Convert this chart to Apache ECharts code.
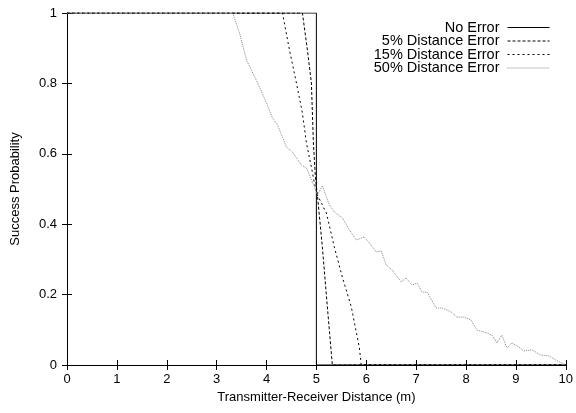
<!DOCTYPE html>
<html><head><meta charset="utf-8">
<script src="https://cdn.jsdelivr.net/npm/echarts@6/dist/echarts.min.js"></script>
<style>html,body{margin:0;padding:0;background:#fff}#c{width:576px;height:413px}</style>
</head><body><div id="c"></div>
<script>
const seriesNames = ['No Error', '5% Distance Error', '15% Distance Error', '50% Distance Error'];
const noError = [[0,1],[5,1],[5,0],[10,0]];
const err5 = [[0,1],[4.72,1.0],[4.82,0.895],[4.90,0.801],[4.92,0.716],[4.94,0.631],[4.98,0.534],[5.02,0.483],[5.12,0.335],[5.22,0.165],[5.32,0.0],[10,0]];
const err15 = [[0,1],[4.32,1.0],[4.46,0.895],[4.60,0.801],[4.72,0.716],[4.80,0.631],[4.90,0.562],[4.96,0.517],[5.02,0.483],[5.20,0.432],[5.36,0.335],[5.52,0.250],[5.70,0.165],[5.86,0.051],[5.90,0.0],[10,0]];
const err50 = [[0,1],[3.32,1.0],[3.46,0.943],[3.60,0.866],[3.86,0.790],[4.00,0.744],[4.12,0.702],[4.22,0.682],[4.40,0.619],[4.52,0.605],[4.70,0.568],[4.80,0.560],[4.92,0.520],[5.02,0.483],[5.12,0.509],[5.26,0.455],[5.36,0.435],[5.52,0.418],[5.66,0.384],[5.80,0.355],[5.96,0.364],[6.06,0.347],[6.20,0.321],[6.30,0.324],[6.40,0.284],[6.52,0.270],[6.70,0.236],[6.80,0.247],[6.92,0.227],[7.02,0.233],[7.12,0.207],[7.22,0.207],[7.40,0.162],[7.52,0.162],[7.70,0.151],[7.82,0.136],[7.96,0.136],[8.10,0.128],[8.22,0.099],[8.36,0.094],[8.52,0.085],[8.62,0.063],[8.72,0.085],[8.82,0.048],[8.92,0.063],[9.06,0.051],[9.16,0.040],[9.32,0.043],[9.50,0.028],[9.66,0.026],[9.80,0.014],[9.92,0.006],[10,0]];
const xTicks = [0,1,2,3,4,5,6,7,8,9,10];
const yTicks = [0,0.2,0.4,0.6,0.8,1];

const font = 'Liberation Sans, Arial, sans-serif';
const axisCommon = {
  axisLine: {show: true, lineStyle: {color: '#000', width: 1}},
  axisTick: {show: true, inside: true, length: 5, lineStyle: {color: '#000'}},
  splitLine: {show: false},
};
const chart = echarts.init(document.getElementById('c'), null, {renderer: 'canvas'});
chart.setOption({
  animation: false,
  backgroundColor: '#fff',
  grid: {left: 67, right: 9, top: 13, bottom: 48, containLabel: false},
  legend: {
    orient: 'vertical', right: 21, top: 15, align: 'right',
    itemWidth: 42, itemHeight: 8, itemGap: -1.5,
    itemStyle: {opacity: 0},
    lineStyle: {width: 1},
    textStyle: {fontFamily: font, fontSize: 14.5, color: '#000', padding: [0, 3, 0, 0]},
    data: seriesNames
  },
  xAxis: [
    Object.assign({type: 'value', min: 0, max: 10, interval: 1, position: 'bottom',
      name: 'Transmitter-Receiver Distance (m)', nameLocation: 'middle', nameGap: 24,
      nameTextStyle: {fontFamily: font, fontSize: 13, color: '#000'},
      axisLabel: {fontFamily: font, fontSize: 13, color: '#000', margin: 8}}, axisCommon),
    Object.assign({type: 'value', min: 0, max: 10, interval: 1, position: 'top',
      axisLabel: {show: false}}, axisCommon)
  ],
  yAxis: [
    Object.assign({type: 'value', min: 0, max: 1, interval: 0.2, position: 'left',
      name: 'Success Probability', nameLocation: 'middle', nameGap: 45,
      nameTextStyle: {fontFamily: font, fontSize: 13, color: '#000'},
      axisLabel: {fontFamily: font, fontSize: 13, color: '#000', margin: 10,
        formatter: v => String(Math.round(v*10)/10)}}, axisCommon),
    Object.assign({type: 'value', min: 0, max: 1, interval: 0.2, position: 'right',
      axisLabel: {show: false}}, axisCommon)
  ],
  series: [
    {name: seriesNames[0], type: 'line', data: noError, symbol: 'none', lineStyle: {color: '#000', width: 1, type: 'solid'}, itemStyle: {color: '#000'}},
    {name: seriesNames[1], type: 'line', data: err5, symbol: 'none', lineStyle: {color: '#000', width: 1, type: [3, 2]}, itemStyle: {color: '#000'}},
    {name: seriesNames[2], type: 'line', data: err15, symbol: 'none', lineStyle: {color: '#000', width: 1, type: [2, 3]}, itemStyle: {color: '#000'}},
    {name: seriesNames[3], type: 'line', data: err50, symbol: 'none', lineStyle: {color: '#888', width: 1, type: [1, 1]}, itemStyle: {color: '#888'}}
  ]
});
</script></body></html>
